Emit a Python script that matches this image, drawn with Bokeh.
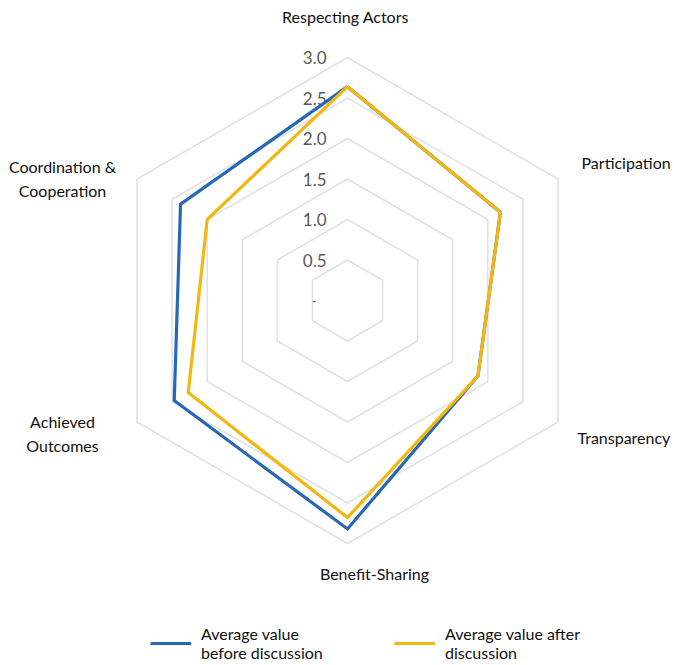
import numpy as np
from bokeh.plotting import figure
from bokeh.models import Range1d, Legend, LegendItem
from bokeh.core.properties import value
from bokeh.embed import file_html
from bokeh.resources import INLINE

categories = ["Respecting Actors", "Participation", "Transparency",
              "Benefit-Sharing", "Achieved Outcomes", "Coordination & Cooperation"]
before = [2.64, 2.18, 1.86, 2.82, 2.47, 2.38]
after = [2.64, 2.18, 1.86, 2.68, 2.27, 2.00]
tick_values = [0.5, 1.0, 1.5, 2.0, 2.5, 3.0]
tick_labels = ["0.5", "1.0", "1.5", "2.0", "2.5", "3.0"]
series_names = ["Average value\nbefore discussion", "Average value after\ndiscussion"]

# layout (pixels)
W, H = 674, 665
S = 81.0          # pixels per unit
CX, CY = 347, 300
FONT = "Lato"
BLUE = "#2768B5"
GOLD = "#F2B710"
GRID = "#E2E2E2"

def X(px):
    return (px - CX) / S

def Y(py):
    return (CY - py) / S

n = len(categories)
angles = np.pi / 2 - np.arange(n) * 2 * np.pi / n

def polar(vals):
    v = np.asarray(vals, dtype=float)
    xs = v * np.cos(angles)
    ys = v * np.sin(angles)
    return list(np.append(xs, xs[0])), list(np.append(ys, ys[0]))

p = figure(width=W, height=H, output_backend="svg", toolbar_location=None,
           x_range=Range1d(X(0), X(W)), y_range=Range1d(Y(H), Y(0)),
           min_border=0)
p.axis.visible = False
p.grid.visible = False
p.outline_line_color = None
p.background_fill_color = "white"

# hexagonal grid
for t in tick_values:
    gx, gy = polar([t] * n)
    p.line(gx, gy, line_color=GRID, line_width=1.6)

# tick labels
p.text(x=[X(326)] * len(tick_values), y=tick_values, text=tick_labels,
       text_align="right", text_baseline="middle", text_color="#595959",
       text_font=value(FONT), text_font_size="17px")
p.text(x=[X(316)], y=[0], text=["-"], text_align="right", text_baseline="middle",
       text_color="#595959", text_font=value(FONT), text_font_size="13px")

# series
bx, by = polar(before)
ax, ay = polar(after)
r_before = p.line(bx, by, line_color=BLUE, line_width=3.2, line_join="miter")
r_after = p.line(ax, ay, line_color=GOLD, line_width=3.2, line_join="miter")

# category labels
label_pos = [(345, 16, "center"), (581, 162, "left"), (577, 437, "left"),
             (374, 573, "center"), (62, 433, "center"), (62, 178, "center")]
label_text = ["Respecting Actors", "Participation", "Transparency",
              "Benefit-Sharing", "Achieved\nOutcomes", "Coordination &\nCooperation"]
for (lx, ly, al), txt in zip(label_pos, label_text):
    p.text(x=[X(lx)], y=[Y(ly)], text=[txt], text_align=al, text_baseline="middle",
           text_color="#111111", text_font=value(FONT), text_font_size="16px",
           text_line_height=1.3)

# legends
for r, name, loc in [(r_before, series_names[0], (150, 3)),
                     (r_after, series_names[1], (394, 3))]:
    lg = Legend(items=[LegendItem(label=name, renderers=[r])], location=loc,
                glyph_width=41, glyph_height=20, label_standoff=10,
                padding=0, margin=0, border_line_alpha=0,
                background_fill_alpha=0, label_text_font=FONT,
                label_text_font_size="16px", label_text_color="#111111",
                label_text_line_height=1.3)
    p.add_layout(lg)

open("out.html", "w").write(file_html(p, INLINE))
